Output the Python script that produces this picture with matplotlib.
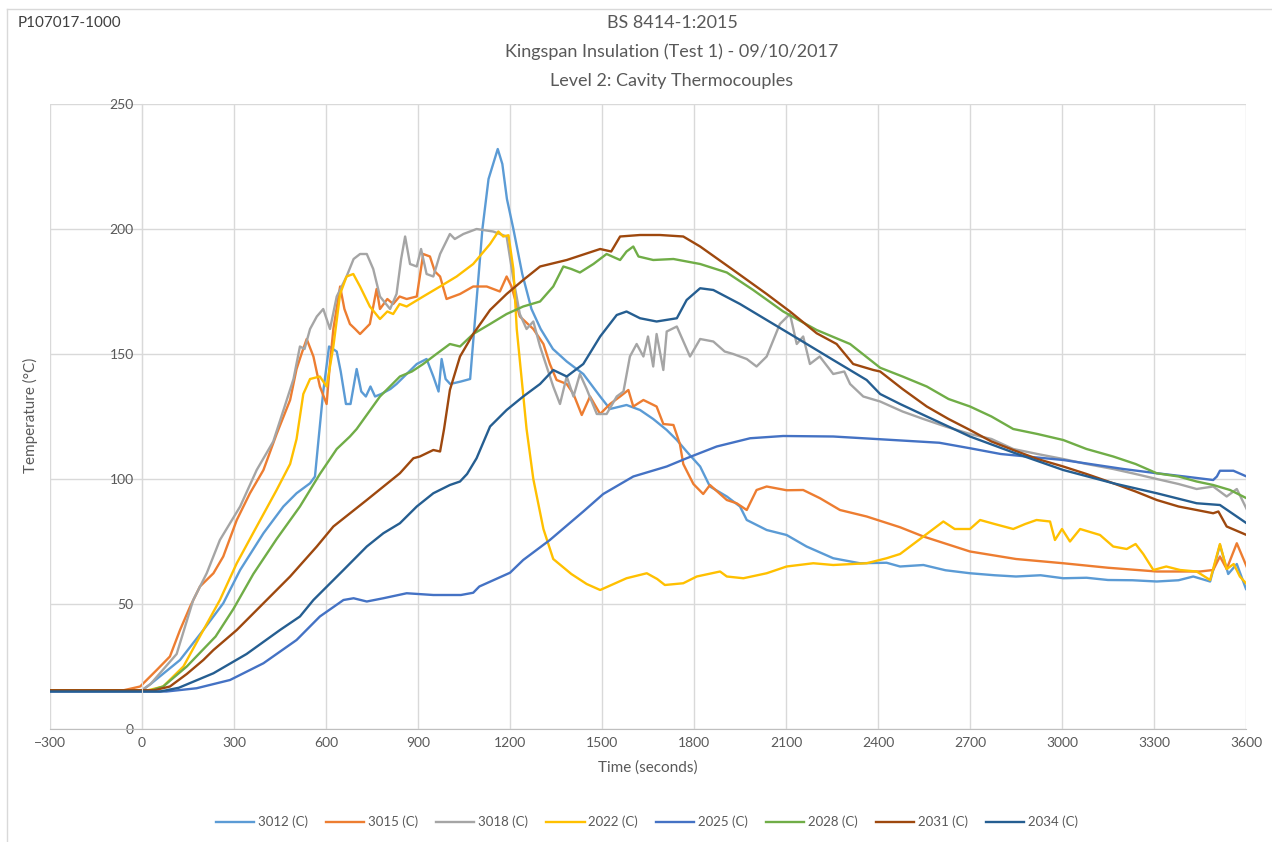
import matplotlib
matplotlib.use('Agg')
import matplotlib.pyplot as plt
from matplotlib.lines import Line2D

plt.rcParams['font.family'] = ['Lato', 'DejaVu Sans']

# ---- data ----
t_3012 = [-300, 0, 28, 124, 200, 265, 320, 396, 461, 504, 548, 564, 575, 591, 610, 635, 648, 665, 680, 700, 715, 730, 745, 760, 780, 810, 830, 863, 896, 928, 950, 967, 977, 990, 1005, 1040, 1070, 1090, 1110, 1130, 1160, 1175, 1190, 1211, 1240, 1270, 1300, 1340, 1385, 1439, 1494, 1526, 1580, 1624, 1667, 1711, 1744, 1776, 1820, 1852, 1907, 1950, 1972, 2037, 2102, 2167, 2254, 2341, 2428, 2472, 2548, 2620, 2700, 2780, 2850, 2930, 3004, 3080, 3150, 3230, 3309, 3380, 3428, 3483, 3515, 3542, 3570, 3600]
T_3012 = [15.5, 15.5, 18, 27.6, 39.6, 50.3, 63.6, 78.3, 89, 94.3, 98.3, 101, 115, 135, 153, 151, 143, 130, 130, 144, 135, 133, 137, 133, 134, 136, 138, 142, 146, 148, 141, 135, 148, 140, 138, 139, 140, 170, 200, 220, 232, 226, 212, 200, 182, 168, 160, 152, 147, 142, 133, 128, 129.6, 127.6, 124, 119.6, 115.6, 111, 105, 97, 93, 89, 83.6, 79.6, 77.6, 73, 68.3, 66.3, 66.5, 65, 65.6, 63.5, 62.3, 61.5, 61, 61.5, 60.3, 60.5, 59.6, 59.5, 59, 59.5, 61, 59, 73.6, 62, 66, 56]

t_3015 = [-300, -60, -6, 48, 91, 124, 157, 189, 233, 265, 309, 352, 396, 439, 483, 504, 520, 537, 559, 580, 602, 612, 624, 646, 660, 678, 695, 711, 743, 765, 776, 800, 819, 840, 863, 896, 917, 939, 955, 972, 993, 1037, 1080, 1124, 1167, 1189, 1205, 1232, 1276, 1309, 1330, 1352, 1385, 1407, 1434, 1461, 1494, 1526, 1559, 1586, 1602, 1635, 1678, 1700, 1733, 1754, 1765, 1798, 1830, 1852, 1907, 1939, 1972, 2004, 2037, 2102, 2156, 2211, 2276, 2363, 2472, 2548, 2700, 2850, 3004, 3150, 3309, 3450, 3493, 3515, 3537, 3570, 3602]
T_3015 = [15.5, 15.5, 17, 23.6, 29, 39.6, 49, 57, 62.3, 69, 83.6, 94.3, 103.6, 118, 131.6, 144, 150, 156, 149, 137, 130, 145, 160, 177, 168, 162, 160, 158, 162, 176, 168, 172, 170, 173, 172, 173, 190, 189, 183, 181, 172, 174, 177, 177, 175, 181, 177, 165, 160, 154, 146, 139.6, 138, 134, 125.6, 133, 126, 130, 133, 135.6, 129, 131.6, 129, 122, 121.6, 114, 106, 98, 94, 97.6, 91.6, 90.3, 87.6, 95.6, 97, 95.5, 95.6, 92.3, 87.6, 85, 80.7, 77, 71, 68, 66.3, 64.5, 63, 63, 63.6, 69, 64, 74.3, 65]

t_3018 = [-300, 0, 28, 113, 167, 211, 254, 320, 374, 428, 472, 494, 515, 530, 548, 570, 591, 613, 635, 667, 690, 711, 733, 754, 776, 809, 830, 845, 858, 874, 896, 910, 928, 950, 972, 1004, 1020, 1048, 1091, 1145, 1189, 1211, 1232, 1254, 1276, 1298, 1341, 1363, 1385, 1407, 1428, 1450, 1483, 1515, 1548, 1570, 1591, 1613, 1635, 1650, 1667, 1678, 1700, 1711, 1744, 1787, 1820, 1863, 1900, 1928, 1972, 2004, 2037, 2080, 2113, 2135, 2156, 2178, 2210, 2254, 2290, 2309, 2352, 2407, 2480, 2548, 2620, 2700, 2770, 2841, 2920, 3004, 3080, 3167, 3240, 3309, 3380, 3439, 3493, 3537, 3570, 3602]
T_3018 = [15.5, 15.5, 18, 30, 51.6, 62.3, 75.6, 89, 103.6, 115, 131.6, 140, 153, 152, 160, 165, 168, 160, 173, 181, 188, 190, 190, 184, 173, 168, 174, 188, 197, 186, 185, 192, 182, 181, 190, 198, 196, 198, 200, 199, 197, 180, 166, 160, 163, 153, 137, 130, 141, 133, 142, 136, 126, 126, 133, 135, 149, 154, 149, 157, 145, 158, 143.6, 159, 161, 149, 156, 155, 151, 150, 148, 145, 149, 162, 166, 154, 157, 146, 149, 142, 143, 138, 133, 131, 127, 124, 121, 118, 116, 112, 110, 108, 106, 104, 102, 100, 98, 96, 97, 93, 96, 88]

t_2022 = [-300, 20, 69, 135, 211, 254, 309, 374, 439, 483, 504, 526, 548, 580, 602, 624, 646, 667, 689, 711, 743, 776, 800, 819, 840, 863, 917, 972, 1026, 1080, 1135, 1162, 1178, 1195, 1211, 1222, 1254, 1276, 1309, 1341, 1400, 1450, 1494, 1580, 1646, 1680, 1705, 1765, 1809, 1885, 1907, 1961, 2037, 2102, 2189, 2254, 2363, 2428, 2472, 2548, 2613, 2650, 2700, 2733, 2780, 2841, 2880, 2917, 2961, 2977, 3000, 3026, 3059, 3124, 3167, 3211, 3240, 3265, 3298, 3340, 3385, 3439, 3483, 3515, 3537, 3560, 3580, 3602]
T_2022 = [15.5, 15.5, 17, 25, 42, 51.6, 66.3, 81, 95.6, 106, 116, 134, 140, 141, 137, 153, 174, 181, 182, 177, 169, 164, 167, 166, 170, 169, 173, 177, 181, 186, 194, 199, 197, 197.5, 184, 160, 120, 100, 80, 68, 62, 58, 55.6, 60.3, 62.3, 60, 57.6, 58.3, 61, 63, 61, 60.3, 62.3, 65, 66.3, 65.6, 66.3, 68.3, 70, 77, 83, 80, 80, 83.6, 82, 80, 82, 83.6, 83, 75.6, 80, 75, 80, 77.6, 73, 72, 74, 70, 63.6, 65, 63.6, 63, 59.6, 74, 64, 66, 61, 58]

t_2025 = [-300, 80, 178, 287, 396, 504, 580, 657, 690, 733, 787, 863, 950, 1040, 1080, 1100, 1200, 1243, 1330, 1439, 1504, 1602, 1711, 1776, 1874, 1983, 2091, 2254, 2407, 2600, 2700, 2800, 3004, 3200, 3309, 3400, 3493, 3505, 3515, 3559, 3602]
T_2025 = [15, 15, 16.3, 19.6, 26.3, 35.6, 45, 51.6, 52.3, 51, 52.3, 54.3, 53.6, 53.6, 54.5, 57, 62.5, 67.6, 75.6, 87, 94, 101, 105, 108.3, 113, 116.3, 117.2, 117, 115.9, 114.5, 112.3, 110, 107.6, 104, 102.3, 101, 99.6, 101, 103.3, 103.3, 101]

t_2028 = [-300, 30, 69, 146, 240, 298, 363, 439, 515, 580, 635, 678, 700, 776, 841, 880, 917, 960, 1004, 1037, 1080, 1135, 1189, 1243, 1298, 1341, 1374, 1400, 1428, 1472, 1515, 1559, 1580, 1602, 1619, 1667, 1733, 1820, 1907, 1993, 2091, 2200, 2309, 2407, 2480, 2559, 2630, 2700, 2770, 2841, 2920, 3004, 3080, 3167, 3240, 3309, 3380, 3439, 3493, 3548, 3602]
T_2028 = [15.5, 15.5, 17, 25, 37, 48, 62, 76, 89, 102, 112, 117, 120, 133, 141, 143, 146, 150, 154, 153, 158, 162, 166, 169, 171, 177, 185, 184, 182.6, 186, 190, 187.6, 191, 193, 189, 187.6, 188, 186, 182.6, 175.6, 167, 159.6, 154, 144.5, 141, 137, 132, 129, 125, 120, 118, 115.6, 112, 109, 106, 102.3, 101, 99, 97.6, 95.6, 92.3]

t_2031 = [-300, 40, 91, 146, 200, 233, 309, 396, 483, 570, 624, 733, 841, 885, 906, 950, 972, 985, 1004, 1037, 1080, 1135, 1189, 1243, 1298, 1385, 1494, 1530, 1559, 1624, 1689, 1765, 1820, 1928, 2037, 2113, 2200, 2265, 2319, 2385, 2407, 2480, 2559, 2630, 2700, 2770, 2841, 2920, 3004, 3080, 3167, 3240, 3309, 3380, 3439, 3493, 3510, 3537, 3602]
T_2031 = [15.5, 15.5, 17, 22, 27.6, 31.6, 39.6, 50.3, 61, 73, 81, 91.6, 102.3, 108.3, 109, 111.6, 111, 120, 135.6, 149, 158, 167.6, 174, 179.6, 185, 187.6, 192, 191, 197, 197.6, 197.6, 197, 193, 183.6, 174, 167, 158.3, 154, 146, 143.6, 143, 136, 129, 124, 119.6, 115, 111.6, 108, 105, 102, 98.3, 95, 91.6, 89, 87.6, 86.3, 87, 81, 77.6]

t_2034 = [-300, 60, 120, 233, 341, 450, 515, 559, 657, 733, 787, 841, 896, 950, 1004, 1037, 1060, 1091, 1135, 1189, 1243, 1298, 1341, 1385, 1439, 1494, 1548, 1580, 1624, 1678, 1744, 1776, 1820, 1863, 1950, 2037, 2146, 2254, 2363, 2407, 2472, 2559, 2700, 2841, 3004, 3167, 3309, 3439, 3515, 3602]
T_2034 = [15, 15, 16.5, 22.3, 30, 39.6, 45, 51.6, 63.6, 73, 78.3, 82.3, 89, 94.3, 97.6, 99, 102, 108.3, 121, 127.6, 133, 138, 143.6, 141, 146, 157, 165.6, 167, 164.3, 163, 164.3, 171.6, 176.3, 175.6, 170, 163.6, 155.6, 147.6, 139.6, 134, 130, 125, 117, 110.6, 103.6, 98.3, 94.3, 90.3, 89.6, 82.3]

series = [
    ('3012 (C)', t_3012, T_3012, '#5B9BD5'),
    ('3015 (C)', t_3015, T_3015, '#ED7D31'),
    ('3018 (C)', t_3018, T_3018, '#A5A5A5'),
    ('2022 (C)', t_2022, T_2022, '#FFC000'),
    ('2025 (C)', t_2025, T_2025, '#4472C4'),
    ('2028 (C)', t_2028, T_2028, '#70AD47'),
    ('2031 (C)', t_2031, T_2031, '#9E480E'),
    ('2034 (C)', t_2034, T_2034, '#255E91'),
]

x_ticks = list(range(-300, 3601, 300))
y_ticks = list(range(0, 251, 50))

txt = '#595959'
fig = plt.figure(figsize=(12.72, 8.42), dpi=100)
ax = fig.add_axes([50/1272, 113/842, 1196/1272, 625/842])

for name, t, T, c in series:
    ax.plot(t, T, color=c, lw=1.7, label=name, solid_joinstyle='round')

ax.set_xlim(-300, 3600)
ax.set_ylim(0, 250)
ax.set_xticks(x_ticks)
ax.set_yticks(y_ticks)
ax.grid(color='#D9D9D9', lw=1)
ax.set_axisbelow(True)
for s in ['top', 'right']:
    ax.spines[s].set_visible(False)
# Excel puts the value axis where time = 0
ax.spines['left'].set_position(('data', 0))
ax.spines['left'].set_color('#D9D9D9')
ax.spines['bottom'].set_color('#BFBFBF')
ax.tick_params(length=0, labelsize=10, labelcolor=txt, pad=6)

fig.text(30/1272, 1 - 415/842, 'Temperature (°C)', rotation=90, ha='center', va='center', fontsize=11, color=txt)
ax.set_xlabel('Time (seconds)', fontsize=11, color=txt, labelpad=8)

fig.text(18/1272, 1 - 23/842, 'P107017-1000', ha='left', va='center', fontsize=11, color='#404040')
title_lines = ['BS 8414-1:2015', 'Kingspan Insulation (Test 1) - 09/10/2017', 'Level 2: Cavity Thermocouples']
for i, line in enumerate(title_lines):
    fig.text(672/1272, 1 - (23 + 29*i)/842, line, ha='center', va='center', fontsize=13, color=txt)

leg = ax.legend(loc='center', bbox_to_anchor=(647/1272, 1 - 822/842), bbox_transform=fig.transFigure,
                ncol=8, frameon=False, fontsize=9.5, handlelength=2.9, handletextpad=0.3, columnspacing=1.35)
for tx in leg.get_texts():
    tx.set_color(txt)

# chart area border
fig.add_artist(Line2D([7/1272, 1], [1 - 9/842, 1 - 9/842], color='#D9D9D9', lw=1, transform=fig.transFigure))
fig.add_artist(Line2D([7/1272, 7/1272], [0, 1 - 9/842], color='#D9D9D9', lw=1, transform=fig.transFigure))

fig.savefig('out.png', dpi=100, facecolor='white')
